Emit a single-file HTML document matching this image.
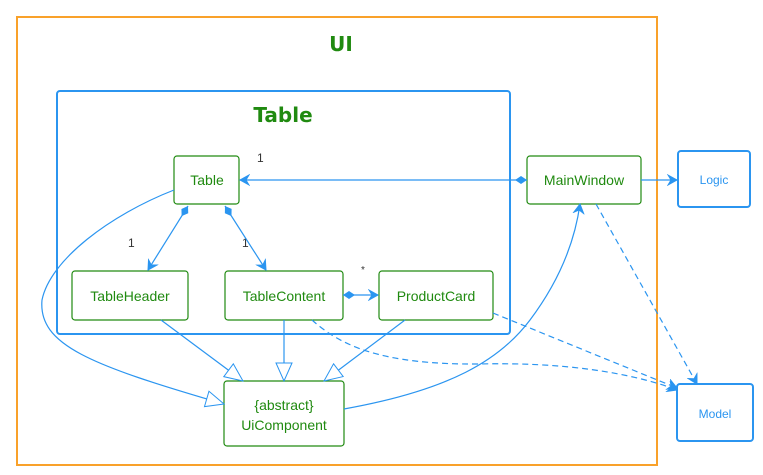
<!DOCTYPE html>
<html><head><meta charset="utf-8"><style>html,body{margin:0;padding:0;background:#fff}svg{display:block}</style></head>
<body>
<svg width="763" height="475" viewBox="0 0 763 475" xmlns="http://www.w3.org/2000/svg" font-family="Liberation Sans, sans-serif">
<defs>
<marker id="open" markerWidth="12" markerHeight="12" refX="10" refY="6" orient="auto" markerUnits="userSpaceOnUse"><path d="M1,1 L10,6 L1,11 L4,6 Z" fill="#2b95f0" stroke="#2b95f0" stroke-width="1"/></marker>
<marker id="tri" markerWidth="20" markerHeight="18" refX="19" refY="9" orient="auto" markerUnits="userSpaceOnUse"><path d="M1,1 L19,9 L1,17 Z" fill="#fff" stroke="#2b95f0" stroke-width="1"/></marker>
<marker id="dia" markerWidth="16" markerHeight="10" refX="1" refY="5" orient="auto" markerUnits="userSpaceOnUse"><path d="M1,5 L7,1 L13,5 L7,9 Z" fill="#2b95f0"/></marker>
</defs>
<rect x="17" y="17" width="640" height="448" fill="none" stroke="#f9a12a" stroke-width="2"/>
<text x="341" y="51" text-anchor="middle" font-size="20" font-weight="bold" fill="#208a10" font-family="DejaVu Sans, sans-serif">UI</text>
<rect x="57" y="91" width="453" height="243" rx="3" fill="none" stroke="#2b95f0" stroke-width="2"/>
<text x="283" y="122" text-anchor="middle" font-size="20" font-weight="bold" fill="#208a10" font-family="DejaVu Sans, sans-serif">Table</text>
<g fill="#fff" stroke="#208a10" stroke-width="1.2">
<rect x="174" y="156" width="65" height="48" rx="3"/>
<rect x="527" y="156" width="114" height="48" rx="3"/>
<rect x="72" y="271" width="116" height="49" rx="3"/>
<rect x="225" y="271" width="118" height="49" rx="3"/>
<rect x="379" y="271" width="114" height="49" rx="3"/>
<rect x="224" y="381" width="120" height="65" rx="3"/>
</g>
<g fill="#fff" stroke="#2b95f0" stroke-width="2">
<rect x="678" y="151" width="72" height="56" rx="3"/>
<rect x="677" y="384" width="76" height="57" rx="3"/>
</g>
<g font-size="14" fill="#208a10" text-anchor="middle">
<text x="207" y="185">Table</text>
<text x="584" y="185">MainWindow</text>
<text x="130" y="301">TableHeader</text>
<text x="284" y="301">TableContent</text>
<text x="436" y="301">ProductCard</text>
<text x="284" y="410">{abstract}</text>
<text x="284" y="430">UiComponent</text>
</g>
<g font-size="12" fill="#2b95f0" text-anchor="middle">
<text x="714" y="184">Logic</text>
<text x="715" y="418">Model</text>
</g>
<g font-size="12" fill="#333">
<text x="257" y="162">1</text>
<text x="128" y="247">1</text>
<text x="242" y="247">1</text>
<text x="361" y="273" font-size="10">*</text>
</g>
<g fill="none" stroke="#2b95f0" stroke-width="1.2">
<path d="M527,180 L240,180" marker-start="url(#dia)" marker-end="url(#open)"/>
<path d="M641,180 L677,180" marker-end="url(#open)"/>
<path d="M188,206 L148,270" marker-start="url(#dia)" marker-end="url(#open)"/>
<path d="M225,206 L266,270" marker-start="url(#dia)" marker-end="url(#open)"/>
<path d="M343,295 L378,295" marker-start="url(#dia)" marker-end="url(#open)"/>
<path d="M161,320 L243,381" marker-end="url(#tri)"/>
<path d="M284,320 L284,381" marker-end="url(#tri)"/>
<path d="M405,320 L324,381" marker-end="url(#tri)"/>
<path d="M174,190 C110,215 50,260 42,300 C38,345 90,365 224,404" marker-end="url(#tri)"/>
<path d="M344,409 C450,390 500,360 530,320 C560,280 575,240 580,204" marker-end="url(#open)"/>
</g>
<g fill="none" stroke="#2b95f0" stroke-width="1.2" stroke-dasharray="6,4">
<path d="M596,204 L697,384" marker-end="url(#open)"/>
<path d="M312,320 C340,345 380,365 480,364 C560,362 630,372 677,390" marker-end="url(#open)"/>
<path d="M493,313 L677,388" marker-end="url(#open)"/>
</g>
</svg>
</body></html>
